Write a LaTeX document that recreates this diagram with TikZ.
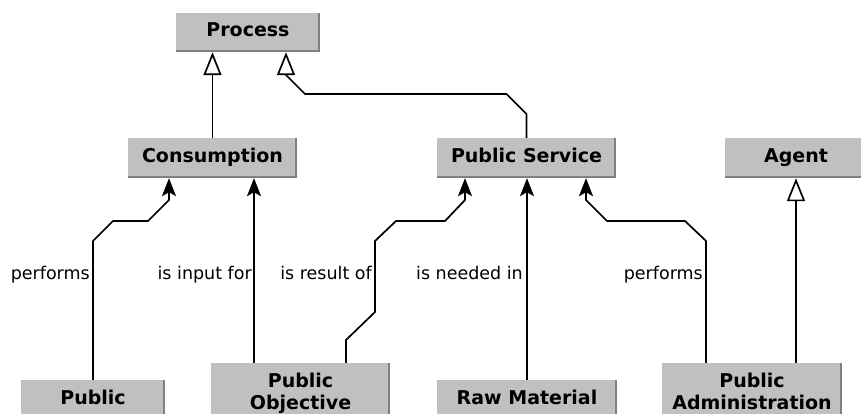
\documentclass[tikz,border=0pt]{standalone}
\usepackage{fontspec}
\setmainfont{DejaVu Sans}
\usetikzlibrary{arrows.meta}
\definecolor{boxgray}{HTML}{C0C0C0}
\definecolor{shadegray}{HTML}{808080}
\begin{document}
\begin{tikzpicture}[x=1pt,y=-1pt,
  box/.style={rectangle, fill=boxgray, inner sep=0pt, font=\bfseries\fontsize{19}{22}\selectfont, text height=15.4pt, text depth=6.6pt},
  boxtwo/.style={rectangle, fill=boxgray, inner sep=0pt, align=center, font=\bfseries\fontsize{19}{22}\selectfont},
  lbl/.style={inner sep=0pt, anchor=base east, font=\fontsize{17.5}{21}\selectfont},
  assoc/.style={draw, line width=1.7pt, -{Stealth[length=18pt,width=14pt,inset=4pt]}},
  gen/.style={draw, line width=1.7pt, -{Triangle[open,length=23pt,width=18pt,fill=white]}},
  shade/.style={draw=shadegray, line width=2.6pt}]
\useasboundingbox (0,0) rectangle (861,414);
\clip (0,0) rectangle (861,414);
% boxes
\node[box, minimum width=144pt, minimum height=39pt] (proc) at (248,32.5) {Process};
\node[box, minimum width=169pt, minimum height=40pt] (cons) at (212.5,158) {Consumption};
\node[box, minimum width=179pt, minimum height=40pt] (ps) at (526.5,158) {Public Service};
\node[box, minimum width=142pt, minimum height=40pt] (agent) at (796,158) {Agent};
\node[box, minimum width=144pt, minimum height=40pt] (pub) at (93,400) {Public};
\node[boxtwo, minimum width=179pt, minimum height=63pt] (pobj) at (300.5,394.5) {\strut Public\\\strut Objective};
\node[box, minimum width=180pt, minimum height=40pt] (raw) at (527,400) {Raw Material};
\node[boxtwo, minimum width=180pt, minimum height=63pt] (padm) at (752,394.5) {\strut Public\\\strut Administration};
\foreach \n in {proc,cons,ps,agent,pub,pobj,raw,padm}
  \draw[shade] ([xshift=-1.3pt]\n.north east) -- ([xshift=-1.3pt,yshift=1.3pt]\n.south east) -- ([yshift=1.3pt]\n.south west);
% labels
\node[lbl] (l1) at (90,279) {performs};
\node[lbl] (l2) at (252,279) {is input for};
\node[lbl] (l3) at (372,279) {is result of};
\node[lbl] (l4) at (523,279) {is needed in};
\node[lbl] (l5) at (703,279) {performs};
% generalisations
\draw[gen] (cons.north) -- (cons.north |- proc.south);
\draw[gen] (ps.north) -- (526.5,114) -- (506.5,94) -- (305,94) -- (286,75) -- ([xshift=38pt]proc.south);
\draw[gen] (agent.south |- padm.north) -- (agent.south);
% associations
\draw[assoc] (pub.north) -- (93,241) -- (113,221) -- (148,221) -- (169,200) -- ([xshift=-43.5pt]cons.south);
\coordinate (c5) at ([xshift=-46.5pt]pobj.north);
\draw[assoc] (c5) -- (c5 |- cons.south);
\draw[assoc] ([xshift=45.5pt]pobj.north) -- (346,340) -- (375,312) -- (375,241) -- (396,221) -- (445,221) -- (465,200) -- ([xshift=-61.5pt]ps.south);
\draw[assoc] (raw.north) -- (raw.north |- ps.south);
\draw[assoc] ([xshift=-46pt]padm.north) -- (706,241) -- (685,221) -- (607,221) -- (586,200) -- ([xshift=59.5pt]ps.south);
\end{tikzpicture}
\end{document}
